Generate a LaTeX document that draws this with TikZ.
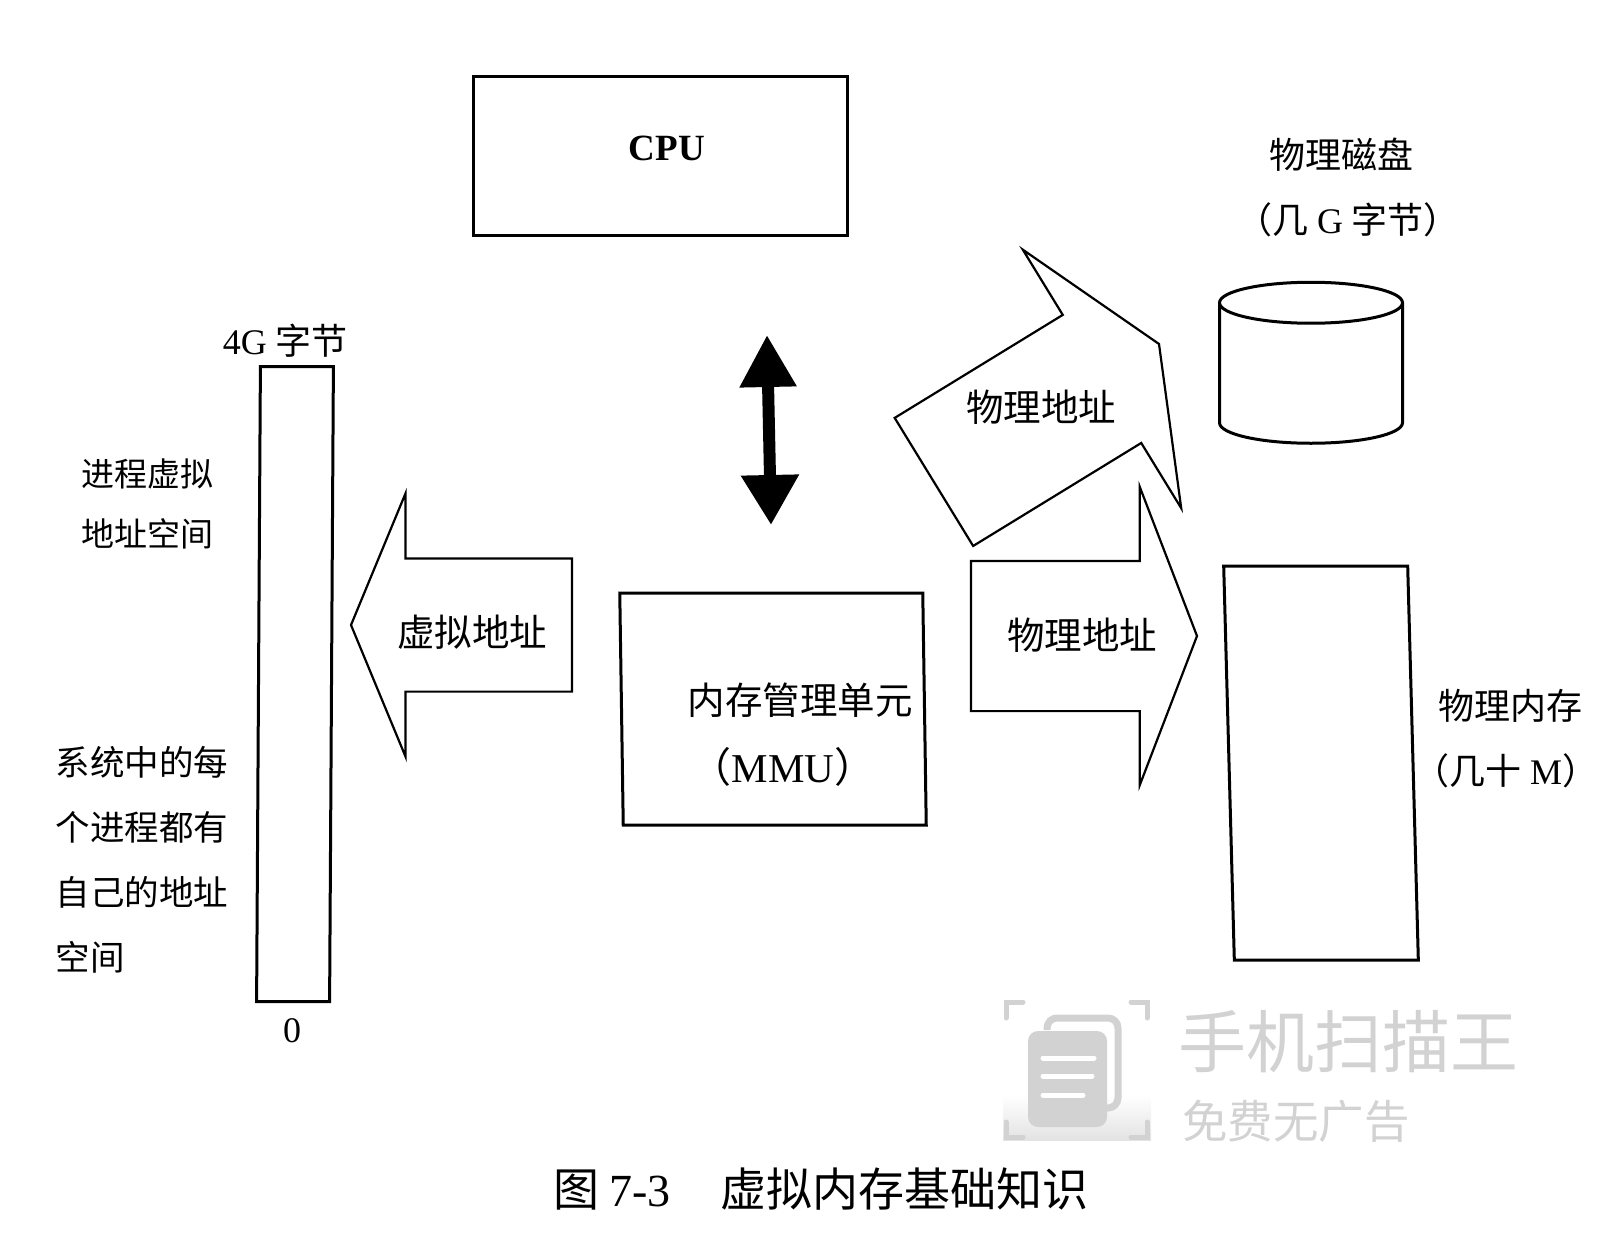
\documentclass[tikz,border=0pt]{standalone}
\usepackage{fontspec}
\usepackage{tikz}
\usepackage{xcolor}
\usetikzlibrary{arrows.meta,positioning,shapes.arrows,shapes.geometric}
\setmainfont{Liberation Serif}
\newfontfamily\cjk{Noto Sans CJK SC}
\newcommand{\lat}[1]{{\rmfamily #1}}
\definecolor{markgray}{HTML}{D2D2D2}

\begin{document}
\begin{tikzpicture}[
    x=1pt, y=-1pt,
    box/.style={draw, line width=3pt, inner sep=0pt, outer sep=0pt},
    slantbox/.style={box, xslant=#1, transform shape},
    fatarrow/.style n args={3}{draw, line width=2.2pt, single arrow, inner xsep=0pt,
                inner ysep=#1, outer sep=0pt, single arrow head extend=#2,
                single arrow tip angle=#3, anchor=tip},
    disk/.style={draw, line width=3pt, cylinder, shape border rotate=90, aspect=0.224,
                minimum width=183pt, minimum height=161pt, inner xsep=91.5pt, inner ysep=0pt, outer sep=0pt},
    txt/.style={font=\cjk\fontsize{36}{44}\selectfont, inner sep=0pt, align=center},
    biglabel/.style={font=\cjk\fontsize{37.5}{44}\selectfont, inner sep=0pt, align=center},
    small/.style={font=\cjk\fontsize{#1}{40}\selectfont, inner sep=0pt, align=left},
    bus/.style={{Triangle[length=52pt,width=54pt]}-{Triangle[length=50pt,width=55pt]}, line width=12pt},
    mark/.style={font=\cjk\fontsize{#1}{#1}\selectfont, text=markgray, inner sep=0pt}
]
  \useasboundingbox (0,0) rectangle (1619,1241);

  \shade[top color=white, bottom color=gray!22] (1003,1095) rectangle (1151,1140);
  \draw[markgray, line width=5pt, line cap=round] (1006,1018) |- (1023,1002);
  \draw[markgray, line width=5pt, line cap=round] (1131,1002) -| (1147,1018);
  \draw[markgray, line width=5pt, line cap=round] (1006,1122) |- (1023,1137);
  \draw[markgray, line width=5pt, line cap=round] (1131,1137) -| (1147,1122);
  \draw[markgray, line width=7pt, rounded corners=10pt] (1047,1030) |- (1118,1018) |- (1105,1108);
  \fill[markgray, rounded corners=10pt] (1028,1031) rectangle (1107,1127);
  \foreach \y/\e in {1058/1094, 1076/1092, 1095/1083}
    \draw[white, line width=5pt, line cap=round] (1043,\y) -- (\e,\y);
  \node[mark=68] (markname) at (1348,1042) {手机扫描王};
  \node[mark=45.5] (markfree) at (1296,1121) {免费无广告};

  \node[box, minimum width=374pt, minimum height=159pt] (cpu) at (660,156.5) {};
  \node[txt, font=\rmfamily\bfseries\fontsize{37}{44}\selectfont] (cpulabel) at (667,148) {CPU};

  \node[slantbox=0.006, minimum width=73pt, minimum height=635pt] (space) at (295,684) {};
  \node[txt] (top) at (285,341) {\lat{4G} 字节};
  \node[txt] (zero) at (292,1031) {\lat{0}};
  \node[small=33] (spacename) at (147,504) {进程虚拟\\[20pt]地址空间};
  \node[small=34.5] (spacenote) at (142,860) {系统中的每\\[25pt]个进程都有\\[25pt]自己的地址\\[25pt]空间};

  \node[slantbox=-0.015, minimum width=303pt, minimum height=232pt] (mmu) at (773,709) {};
  \node[biglabel] (mmuname) at (800,700) {内存管理单元};
  \node[biglabel, font=\cjk\fontsize{41}{44}\selectfont, below=30pt of mmuname, xshift=-17pt] (mmushort) {（\lat{MMU}）};

  \coordinate (busup) at (767,335);
  \coordinate (busdown) at (771,525);
  \draw[bus] (busup) -- (busdown);

  \node[fatarrow={65.5pt}{65pt}{135}, minimum height=221pt, rotate=180] (virt) at (351,625) {};
  \node[biglabel] (virtlabel) at (472,632) {虚拟地址};
  \node[fatarrow={74pt}{74pt}{138}, minimum height=226pt] (phys) at (1197,636) {};
  \node[biglabel] (physlabel) at (1082,635) {物理地址};
  \node[fatarrow={74pt}{76.5pt}{132.4}, minimum height=264pt, rotate=31.5] (swap) at (1159,344) {};
  \node[biglabel] (swaplabel) at (1041,407) {物理地址};

  \node[txt] (diskname) at (1341,155) {物理磁盘};
  \node[txt, below=31pt of diskname, xshift=7pt] (disksize) {（几\ \lat{G}\ 字节）};
  \node[disk] (harddisk) at (1311,384) {};

  \node[slantbox=-0.027, minimum width=184pt, minimum height=394pt] (ram) at (1321,763) {};
  \node[txt] (ramname) at (1510,706) {物理内存};
  \node[txt, below=31pt of ramname, xshift=-4pt] (ramsize) {（几十\ \lat{M}）};

  \node[txt, font=\cjk\fontsize{46}{50}\selectfont] (caption) at (821,1189) {图 \lat{7-3}\hspace{50pt}虚拟内存基础知识};
\end{tikzpicture}
\end{document}
